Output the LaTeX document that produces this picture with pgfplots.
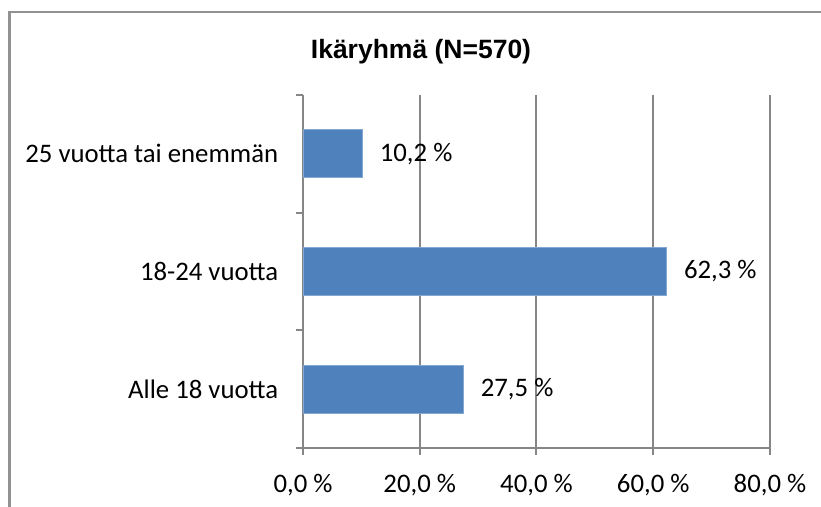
\documentclass[border=0pt]{standalone}
\usepackage{pgfplots}
\pgfplotsset{compat=1.18}
\usepackage{fontspec}
\setmainfont{Carlito}
\newfontfamily\titlefont{Liberation Sans}
\definecolor{barblue}{HTML}{4F81BD}
\definecolor{gridgray}{HTML}{868686}
\begin{document}
\begin{tikzpicture}
\useasboundingbox (0,0) rectangle (328.4pt,202.8pt);
\draw[gridgray!90, line width=1.1pt] (3.8pt,-20pt) rectangle (350pt,198pt);
\node[font=\titlefont\fontsize{10.6pt}{12pt}\selectfont\bfseries] at (168.4pt,182pt) {Ikäryhmä (N=570)};
\begin{axis}[
  at={(121.2pt,23.6pt)}, anchor=south west,
  scale only axis, width=186.8pt, height=141.2pt,
  xbar, bar width=0.41,
  xmin=0, xmax=80, ymin=-0.5, ymax=2.5,
  axis lines=left, axis line style={gridgray, line width=0.8pt, -},
  xtick={0,20,40,60,80},
  xticklabels={0{,}0 \%,20{,}0 \%,40{,}0 \%,60{,}0 \%,80{,}0 \%},
  xmajorgrids, major grid style={gridgray, line width=0.8pt},
  ytick={-0.5,0.5,1.5,2.5}, yticklabels={},
  extra y ticks={0,1,2},
  extra y tick labels={Alle 18 vuotta,18-24 vuotta,25 vuotta tai enemmän},
  extra y tick style={major tick length=0pt, yticklabel style={xshift=-6.4pt}},
  tick style={gridgray, line width=0.8pt},
  major tick length=2.8pt,
  xtick align=outside, ytick align=outside,
  tick label style={font=\fontsize{10.7pt}{12pt}\selectfont, text=black},
  xticklabel style={yshift=-4pt},
  point meta=explicit symbolic,
  nodes near coords,
  nodes near coords style={anchor=west, xshift=3.4pt, font=\fontsize{10.7pt}{12pt}\selectfont, text=black},
  clip=false,
]
\addplot[fill=barblue, draw=barblue!70!white, line width=0.4pt] coordinates {
  (27.5,0) [27{,}5 \%]
  (62.3,1) [62{,}3 \%]
  (10.2,2) [10{,}2 \%]
};
\end{axis}
\end{tikzpicture}
\end{document}
